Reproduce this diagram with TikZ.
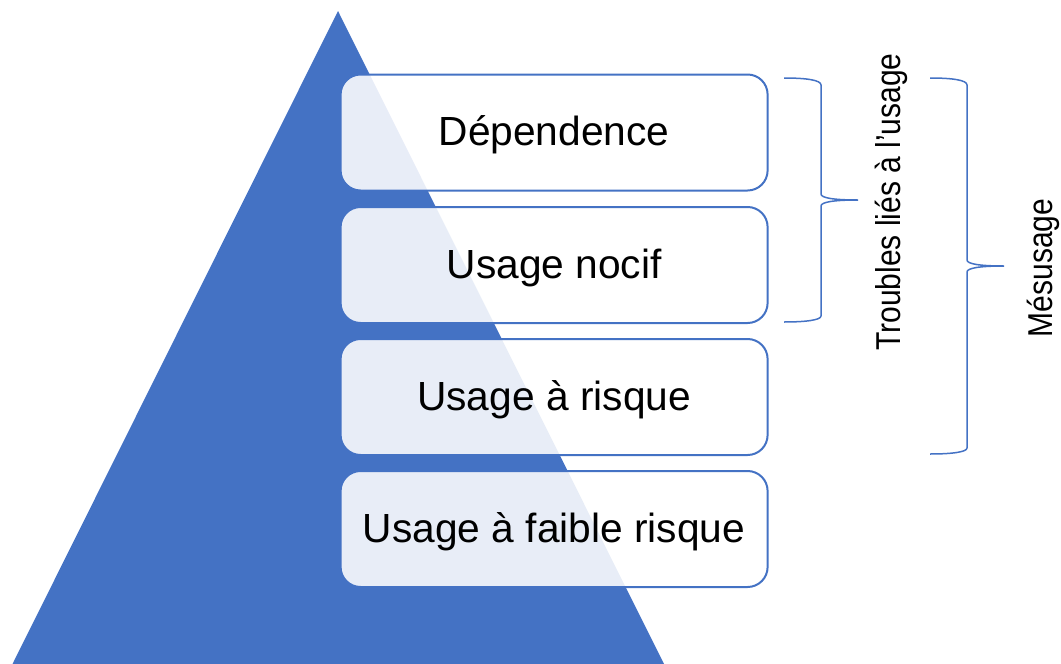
\documentclass[tikz,border=0pt]{standalone}
\usepackage{fontspec}
\setmainfont{Liberation Sans}
\definecolor{pyr}{HTML}{4472C4}
\begin{document}
\begin{tikzpicture}[x=1pt,y=-1pt,
  levelbox/.style={draw=pyr, line width=2pt, fill=white, fill opacity=0.88, text opacity=1,
    rounded corners=20pt, minimum width=427pt, minimum height=116pt, inner sep=0pt,
    text height=26pt, text depth=0pt, font=\fontsize{40.7}{48}\selectfont},
  bracepath/.style={draw=pyr, line width=1.5pt},
  sidelabel/.style={rotate=90, inner sep=0pt, text height=24.7pt, text depth=0pt,
    font=\fontsize{34.5}{40}\selectfont}]
\useasboundingbox (0,0) rectangle (1061,664);
% pyramid
\fill[pyr] (338,11) -- (664,664) -- (12.5,664) -- cycle;
% levels
\node[levelbox] (dep) at (554.1,132.5) {Dépendence};
\node[levelbox] (noc) at (554.1,265) {Usage nocif};
\node[levelbox] (ris) at (554.1,397) {Usage à risque};
\node[levelbox] (fai) at (554.1,529) {Usage à faible risque};
% braces
\path[bracepath] (784,78) .. controls (806,78) and (821,80) .. (821,85) -- (821,194)
  .. controls (821,198) and (834,200) .. (858,200)
  .. controls (834,200) and (821,202) .. (821,206) -- (821,316)
  .. controls (821,320) and (806,322) .. (784,322);
\path[bracepath] (930,78) .. controls (952,78) and (967,80) .. (967,85) -- (967,260)
  .. controls (967,264) and (980,266) .. (1004,266)
  .. controls (980,266) and (967,268) .. (967,272) -- (967,448)
  .. controls (967,452) and (952,454) .. (930,454);
% labels
\node[sidelabel] (trb) at (888.4,202) {\scalebox{0.87}[1]{Troubles liés à l’usage}};
\node[sidelabel] (mes) at (1040.5,268) {\scalebox{0.87}[1]{Mésusage}};
\end{tikzpicture}
\end{document}
